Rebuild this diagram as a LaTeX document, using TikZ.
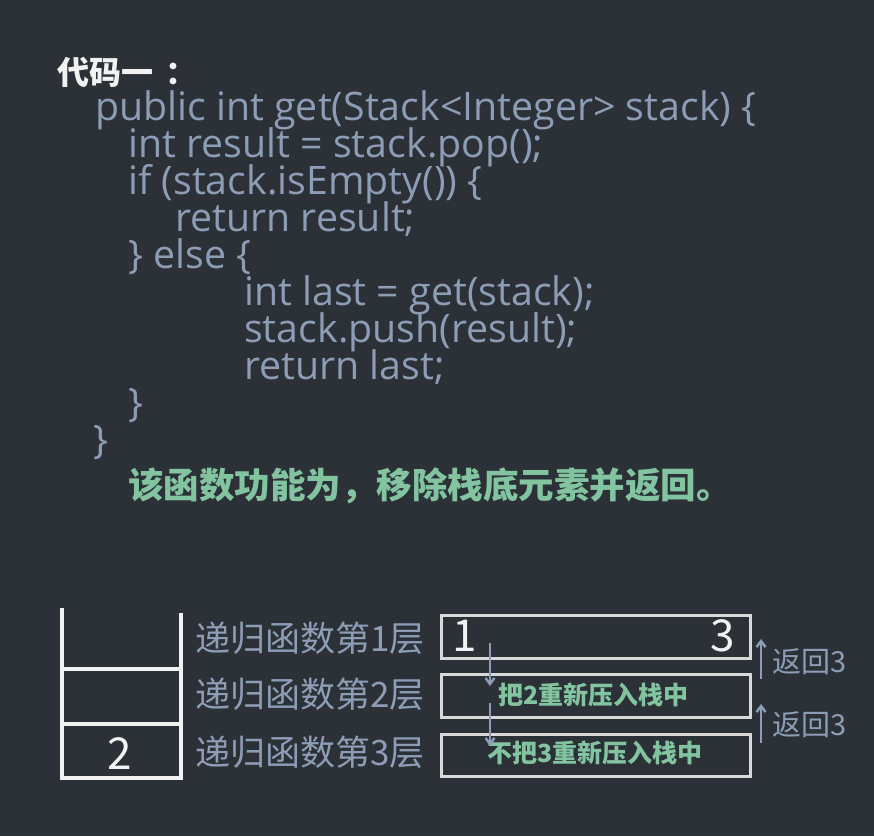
\documentclass[tikz,border=0pt]{standalone}
\usepackage{fontspec}
\setmainfont{Noto Sans CJK SC}
\newfontfamily\codefont{Open Sans}
\usetikzlibrary{arrows.meta}
\definecolor{bgc}{HTML}{2C3037}
\definecolor{codec}{HTML}{8D9DB6}
\definecolor{greenc}{HTML}{82C4A0}
\definecolor{whitec}{HTML}{F2F2F2}
\definecolor{linec}{HTML}{D9D9D9}
\tikzset{
  codeline/.style={anchor=base west, inner sep=0pt, text=codec, font=\codefont\fontsize{39.3}{39.3}\selectfont},
  cjklabel/.style={anchor=west, inner sep=0pt, text=codec, font=\fontsize{35}{35}\selectfont},
  greennote/.style={anchor=west, inner sep=0pt, text=greenc, font=\bfseries\fontsize{25}{25}\selectfont},
  retlabel/.style={anchor=west, inner sep=0pt, text=codec, font=\fontsize{29}{29}\selectfont},
  bignum/.style={inner sep=0pt, text=whitec, font=\fontsize{44}{44}\selectfont},
  framebox/.style={draw=linec, line width=3pt},
  stackline/.style={draw=whitec, line width=4pt},
  flowarrow/.style={draw=codec, line width=2.5pt, -{Straight Barb[length=6pt,width=9pt]}},
}
\begin{document}
\begin{tikzpicture}[x=1pt,y=-1pt]
\fill[bgc] (0,0) rectangle (874,836);
\useasboundingbox (0,0) rectangle (874,836);
% title
\node[anchor=west, inner sep=0pt, text=whitec, font=\bfseries\fontsize{32}{32}\selectfont] (title) at (57,72) {代码一\hspace{12pt}：};
% code
\node[codeline] (c1) at (95,120) {public int get(Stack<Integer> stack) \{};
\node[codeline] (c2) at (128,157) {int result = stack.pop();};
\node[codeline] (c3) at (128,194) {if (stack.isEmpty()) \{};
\node[codeline] (c4) at (175,231) {return result;};
\node[codeline] (c5) at (128,268) {\} else \{};
\node[codeline] (c6) at (244,305) {int last = get(stack);};
\node[codeline] (c7) at (244,342) {stack.push(result);};
\node[codeline] (c8) at (244,379) {return last;};
\node[codeline] (c9) at (128,416) {\}};
\node[codeline] (c10) at (93,453) {\}};
\node[anchor=west, inner sep=0pt, text=greenc, font=\bfseries\fontsize{35.5}{35.5}\selectfont] (desc) at (128,486) {该函数功能为，移除栈底元素并返回。};
% stack
\coordinate (sTL) at (62,608);
\coordinate (sTR) at (181,613);
\coordinate (sBL) at (62,778);
\coordinate (sBR) at (181,778);
\draw[stackline] (sTL) -- (sBL) -- (sBR) -- (sTR);
\coordinate (m1L) at (62,669);
\coordinate (m1R) at (181,669);
\coordinate (m2L) at (62,724);
\coordinate (m2R) at (181,724);
\draw[stackline] (m1L) -- (m1R);
\draw[stackline] (m2L) -- (m2R);
\node[bignum] (two) at (120,754) {2};
% layer labels
\node[cjklabel] (l1) at (195,638) {递归函数第1层};
\node[cjklabel] (l2) at (195,694) {递归函数第2层};
\node[cjklabel] (l3) at (195,752) {递归函数第3层};
% boxes
\node[framebox, minimum width=309pt, minimum height=43pt, anchor=north west, inner sep=0pt] (b1) at (440,614) {};
\node[framebox, minimum width=309pt, minimum height=43pt, anchor=north west, inner sep=0pt] (b2) at (440,673) {};
\node[framebox, minimum width=309pt, minimum height=42pt, anchor=north west, inner sep=0pt] (b3) at (440,733) {};
\node[bignum] (one) at (465,636) {1};
\node[bignum] (three) at (723,636) {3};
\node[greennote] (g2) at (498,695) {把2重新压入栈中};
\node[greennote] (g3) at (487,753) {不把3重新压入栈中};
% down arrows
\coordinate (d1s) at (490,643);
\coordinate (d1e) at (490,686);
\coordinate (d2s) at (490,703);
\coordinate (d2e) at (490,746);
\draw[flowarrow] (d1s) -- (d1e);
\draw[flowarrow] (d2s) -- (d2e);
% up arrows
\coordinate (u1s) at (761,679);
\coordinate (u1e) at (761,639);
\coordinate (u2s) at (761,743);
\coordinate (u2e) at (761,704);
\draw[flowarrow] (u1s) -- (u1e);
\draw[flowarrow] (u2s) -- (u2e);
\node[retlabel] (r1) at (772,662) {返回3};
\node[retlabel] (r2) at (772,725) {返回3};
\end{tikzpicture}
\end{document}
